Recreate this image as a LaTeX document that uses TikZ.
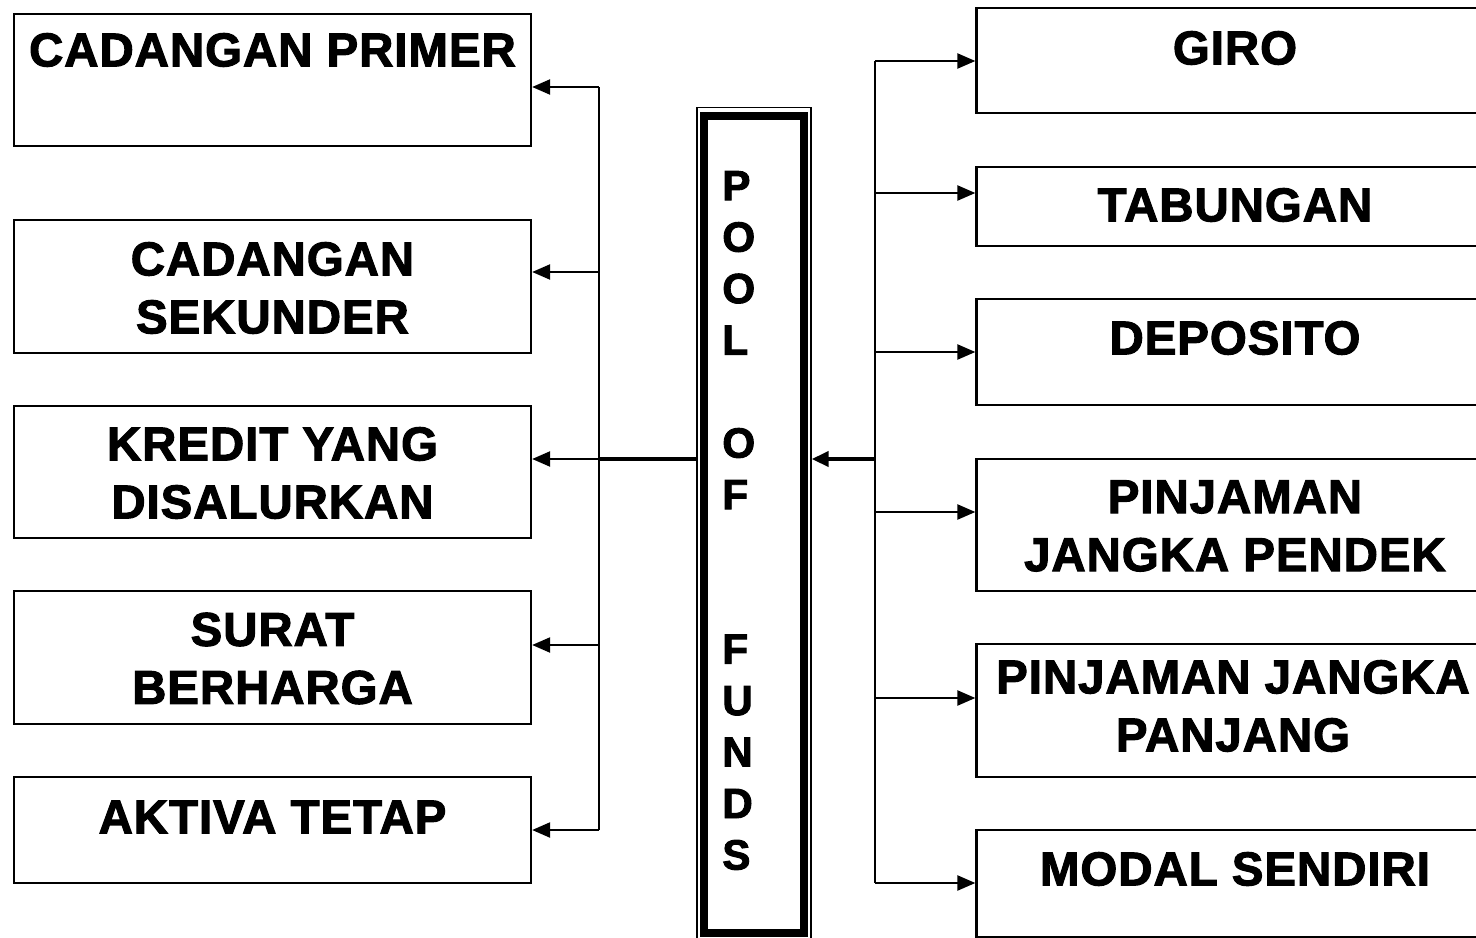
\documentclass[tikz,border=0pt]{standalone}
\usepackage{fontspec}
\setmainfont{Liberation Sans}[LetterSpace=2, FakeBold=2.2]
\usetikzlibrary{arrows.meta}

\begin{document}
\begin{tikzpicture}[
	box/.style = {draw, line width=1.3pt, minimum width=10.34cm, inner sep=0pt},
	lbl/.style = {font=\bfseries\fontsize{27}{33}\selectfont, align=center, inner sep=0pt},
	arr/.style = {line width=1.3pt, -{Triangle[length=0.36cm, width=0.3cm]}},
	bus/.style = {line width=1.6pt}]
							\useasboundingbox (0,0) rectangle (29.52,-18.76);
							
							\node[box, minimum height=2.64cm] (cadprim) at (5.45,-1.6) {};
							\node[box, minimum height=2.66cm] (cadsek) at (5.45,-5.73) {};
							\node[box, minimum height=2.64cm] (kredit) at (5.45,-9.44) {};
							\node[box, minimum height=2.66cm] (surat) at (5.45,-13.15) {};
							\node[box, minimum height=2.12cm] (aktiva) at (5.45,-16.6) {};
							
							\node[lbl] (cadprimtxt) at (5.45,-1.0) {CADANGAN PRIMER};
							\node[lbl] (cadsektxt) at (5.45,-5.76) {CADANGAN\\SEKUNDER};
							\node[lbl] (kredittxt) at (5.45,-9.46) {KREDIT YANG\\DISALURKAN};
							\node[lbl] (surattxt) at (5.45,-13.17) {SURAT\\BERHARGA};
							\node[lbl] (aktivatxt) at (5.45,-16.34) {AKTIVA TETAP};
							
							\node[box, minimum height=2.1cm] (giro) at (24.7,-1.21) {};
							\node[box, minimum height=1.58cm] (tabungan) at (24.7,-4.13) {};
							\node[box, minimum height=2.12cm] (deposito) at (24.7,-7.04) {};
							\node[box, minimum height=2.64cm] (pinpendek) at (24.7,-10.5) {};
							\node[box, minimum height=2.66cm] (pinpanjang) at (24.7,-14.21) {};
							\node[box, minimum height=2.14cm] (modal) at (24.7,-17.67) {};
							
							\node[lbl] (girotxt) at (24.7,-0.96) {GIRO};
							\node[lbl] (tabungantxt) at (24.7,-4.1) {TABUNGAN};
							\node[lbl] (depositotxt) at (24.7,-6.76) {DEPOSITO};
							\node[lbl] (pinpendektxt) at (24.7,-10.52) {PINJAMAN\\JANGKA PENDEK};
							\node[lbl] (pinpanjangtxt) at (24.66,-14.12) {PINJAMAN JANGKA\\PANJANG};
							\node[lbl] (modaltxt) at (24.7,-17.38) {MODAL SENDIRI};
							
							\node[draw, line width=0.8pt, minimum width=2.28cm, minimum height=16.66cm] (poolout) at (15.08,-10.485) {};
							\node[draw, line width=4pt, minimum width=2.0cm, minimum height=16.34cm] (pool) at (15.08,-10.49) {};
							\node[anchor=west, align=left, inner sep=0pt, font=\bfseries\fontsize{24}{29.3}\selectfont] (pooltxt) at (14.44,-10.41)
								{P\\O\\O\\L\\[29.3pt]O\\F\\[58.6pt]F\\U\\N\\D\\S};
							
							\coordinate (lb1) at (11.98,-1.74);
							\coordinate (lb2) at (11.98,-5.44);
							\coordinate (lb3) at (11.98,-9.18);
							\coordinate (lb4) at (11.98,-12.9);
							\coordinate (lb5) at (11.98,-16.6);
							\draw[bus] (lb1) -- (lb5);
							\foreach \c/\b in {lb1/cadprim, lb2/cadsek, lb3/kredit, lb4/surat, lb5/aktiva}
								\draw[arr] (\c) -- (\c -| \b.east);
							\draw[line width=2.8pt] (lb3 -| poolout.west) -- (lb3);
							
							\coordinate (rb1) at (17.5,-1.22);
							\coordinate (rb2) at (17.5,-3.86);
							\coordinate (rb3) at (17.5,-7.04);
							\coordinate (rb4) at (17.5,-10.24);
							\coordinate (rb5) at (17.5,-13.96);
							\coordinate (rb6) at (17.5,-17.66);
							\coordinate (rmid) at (17.5,-9.18);
							\draw[bus] (rb1) -- (rb6);
							\foreach \c/\b in {rb1/giro, rb2/tabungan, rb3/deposito, rb4/pinpendek, rb5/pinpanjang, rb6/modal}
								\draw[arr] (\c) -- (\c -| \b.west);
							\draw[line width=2.8pt, -{Triangle[length=0.34cm, width=0.3cm]}] (rmid) -- (rmid -| poolout.east);
							
						\end{tikzpicture}
\end{document}
